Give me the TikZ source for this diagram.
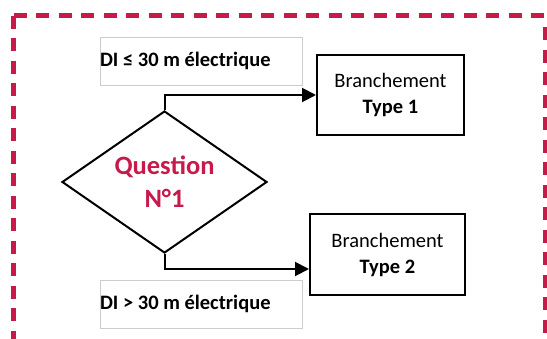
\documentclass[tikz,border=0pt]{standalone}
\usepackage{fontspec}
\setmainfont{Carlito}
\usetikzlibrary{shapes.geometric,arrows.meta}
\definecolor{crimson}{RGB}{200,25,75}

\begin{document}
\begin{tikzpicture}[x=1pt,y=-1pt,
    frame/.style={crimson, line width=5pt, dash pattern=on 13pt off 9.5pt},
    cond/.style={draw=black!20, line width=0.8pt, minimum height=48pt, inner sep=0pt,
      text width=202pt, align=flush left, font=\fontsize{20.5}{25}\selectfont\bfseries},
    branch/.style={draw, line width=2pt, inner sep=0pt, align=center,
      font=\fontsize{20.5}{26}\selectfont},
    link/.style={line width=2pt, -{Triangle[length=14pt,width=14pt]}}]
    \useasboundingbox (0,0) rectangle (547,338);
    \clip (0,0) rectangle (547,338);
    % dashed frame
    \draw[frame] (13.5,15.5) -- (547,15.5);
    \draw[frame] (13.5,15.5) -- (13.5,400);
    \draw[frame] (545,27) -- (545,400);
    \node[cond] (c1) at (201,61) {DI ≤ 30 m électrique};
    \node[cond] (c2) at (201,304) {DI > 30 m électrique};
    \node[branch, minimum width=147pt, minimum height=80pt] (b1) at (390.5,95) {Branchement\\\textbf{Type 1}};
    \node[branch, minimum width=155pt, minimum height=81pt] (b2) at (387.5,254.5) {Branchement\\\textbf{Type 2}};
    \node[draw, diamond, line width=2pt, minimum width=205pt, minimum height=142pt, inner sep=0pt] (q) at (164.5,182) {};
    \node[text=crimson, align=center, font=\fontsize{26.5}{33}\selectfont\bfseries] (qt) at (q.center) {Question\\N°1};
    \draw[link] (q.north) |- (b1.west);
    \draw[link] (q.south) |- ([yshift=-14.5pt]b2.west);
\end{tikzpicture}
\end{document}
